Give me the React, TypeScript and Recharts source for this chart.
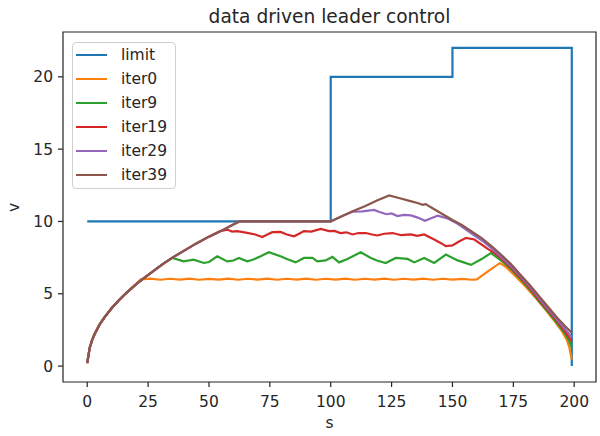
import React from 'react';
import { LineChart, Line, XAxis, YAxis, Legend, ReferenceArea } from 'recharts';

// shared acceleration ramp
const rampS = [0, 1, 2, 3, 5, 7, 10, 13, 16, 20, 23, 27, 31, 35, 40, 45, 50, 55, 59, 62.5];
const rampV = [0.2, 1.25, 1.8, 2.2, 2.85, 3.35, 4.0, 4.55, 5.05, 5.65, 6.05, 6.55, 7.05, 7.5, 8.0, 8.5, 8.95, 9.35, 9.7, 10.0];

const limitS = [0, 100, 100, 150, 150, 199, 199];
const limitV = [10, 10, 20, 20, 22, 22, 0];

const iter0S = [
  22, 26, 30, 34, 38, 42, 46, 50, 54, 58, 62, 66, 70, 74, 78, 82, 86, 90, 94, 98,
  102, 106, 110, 114, 118, 122, 126, 130, 134, 138, 142, 146, 150, 154, 158,
  160, 165, 169.5, 172, 176, 180, 184, 188, 192, 195, 197, 198, 199,
];
const iter0V = [
  6.0, 6.05, 5.97, 6.04, 5.98, 6.05, 5.97, 6.03, 5.98, 6.05, 5.97, 6.04, 5.98, 6.05, 5.97, 6.04, 5.98, 6.05, 5.97, 6.04,
  5.98, 6.05, 5.97, 6.04, 5.98, 6.05, 5.97, 6.04, 5.98, 6.05, 5.97, 6.04, 5.98, 6.03, 5.97,
  6.0, 6.6, 7.13, 6.85, 6.2, 5.5, 4.75, 3.95, 3.1, 2.4, 1.8, 1.3, 0.45,
];

const iter9S = [
  35, 39.6, 43.7, 47.9, 50, 53.4, 57.5, 60, 62.3, 65.7, 68, 71.2, 74.6, 79.4, 82, 85.6, 89, 92.5, 94.5, 97.9,
  100.7, 103.4, 106.9, 112.3, 116.5, 119, 122.6, 126.7, 131.6, 134.3, 138.4, 142.5, 147.3, 152.1, 157.6, 162, 165.8,
  170, 174, 178, 182, 186, 190, 193, 196, 198, 199,
];
const iter9V = [
  7.48, 7.24, 7.36, 7.13, 7.2, 7.59, 7.24, 7.3, 7.48, 7.24, 7.35, 7.59, 7.87, 7.59, 7.4, 7.17, 7.48, 7.48, 7.24, 7.31,
  7.55, 7.17, 7.41, 7.87, 7.48, 7.3, 7.13, 7.48, 7.41, 7.17, 7.48, 7.13, 7.71, 7.31, 7.0, 7.4, 7.82,
  7.3, 6.7, 6.0, 5.25, 4.4, 3.6, 2.95, 2.3, 1.7, 1.3,
];

const iter19S = [
  54.7, 57.5, 59.5, 61.6, 65.7, 69, 71.9, 74, 76, 79.4, 82, 84.9, 87, 89, 92, 95.9, 99.3, 101.5, 104, 106.5,
  108.9, 111.5, 114.4, 117, 119.2, 122, 125.4, 129, 132.9, 135.5, 138.4, 142.5, 145.3, 147.3, 150, 152.5, 155.6, 159,
  164.5, 167, 170, 174, 178, 182, 186, 190, 193, 196, 198, 199,
];
const iter19V = [
  9.33, 9.44, 9.3, 9.33, 9.21, 9.1, 8.93, 9.1, 9.26, 9.28, 9.1, 8.98, 9.15, 9.33, 9.3, 9.49, 9.33, 9.35, 9.2, 9.25,
  9.1, 9.2, 9.2, 9.1, 9.03, 9.15, 9.2, 9.05, 9.1, 9.0, 9.1, 8.75, 8.5, 8.29, 8.35, 8.6, 8.87, 8.75,
  8.1, 7.85, 7.45, 6.8, 6.1, 5.35, 4.5, 3.7, 3.1, 2.45, 1.95, 1.7,
];

const iter29S = [
  100, 105, 109, 113, 117.8, 120, 123, 125, 127.4, 130, 133, 136, 138.7, 141, 143.9, 146, 148,
  152, 155, 158, 162, 166, 170, 174, 178, 182, 186, 190, 193, 196, 199,
];
const iter29V = [
  10, 10.4, 10.67, 10.7, 10.8, 10.65, 10.5, 10.55, 10.37, 10.45, 10.42, 10.25, 10.05, 10.2, 10.4, 10.3, 10.2,
  9.85, 9.5, 9.15, 8.7, 8.15, 7.55, 6.9, 6.2, 5.45, 4.6, 3.8, 3.2, 2.6, 2.0,
];

const iter39S = [
  100, 105, 109, 114, 119, 124, 128, 132, 136, 137.7, 139, 142, 146, 150, 154, 158, 162, 166, 170, 174,
  178, 182, 186, 190, 193, 196, 199,
];
const iter39V = [
  10, 10.4, 10.7, 11.05, 11.45, 11.8, 11.62, 11.44, 11.26, 11.15, 11.2, 10.9, 10.5, 10.1, 9.75, 9.3, 8.85, 8.3, 7.7, 7.05,
  6.3, 5.55, 4.75, 3.95, 3.35, 2.8, 2.3,
];

const xTicks = [0, 25, 50, 75, 100, 125, 150, 175, 200];
const yTicks = [0, 5, 10, 15, 20];

const toPoints = (s: number[], v: number[]) => s.map((x, i) => ({ s: x, v: v[i] }));
const withRamp = (upTo: number, s: number[], v: number[]) =>
  toPoints(
    [...rampS.filter((x) => x <= upTo), ...s],
    [...rampV.filter((_, i) => rampS[i] <= upTo), ...v],
  );

const series = [
  { name: 'limit', color: '#1f77b4', data: toPoints(limitS, limitV) },
  { name: 'iter0', color: '#ff7f0e', data: withRamp(20, iter0S, iter0V) },
  { name: 'iter9', color: '#2ca02c', data: withRamp(31, iter9S, iter9V) },
  { name: 'iter19', color: '#d62728', data: withRamp(50, iter19S, iter19V) },
  { name: 'iter29', color: '#9467bd', data: withRamp(62.5, iter29S, iter29V) },
  { name: 'iter39', color: '#8c564b', data: withRamp(62.5, iter39S, iter39V) },
];
const order = (name: string) => series.findIndex((sr) => sr.name === name);

const FONT = 'DejaVu Sans';
const TXT = '#262626';
const xDomain: [number, number] = [-9.95, 208.95];
const yDomain: [number, number] = [-1.1, 23.1];

const renderLegend = (props: any) => {
  const items = [...(props.payload || [])].sort((a: any, b: any) => order(a.value) - order(b.value));
  return (
    <div
      style={{
        boxSizing: 'border-box',
        width: 104,
        height: 147,
        border: '1px solid #d0d0d0',
        borderRadius: 4,
        background: 'rgba(255,255,255,0.8)',
        fontFamily: FONT,
        fontSize: 15.5,
        color: TXT,
      }}
    >
      {items.map((e: any) => (
        <div key={e.value} style={{ display: 'flex', alignItems: 'center', height: 24 }}>
          <span style={{ display: 'inline-block', width: 31, height: 2.2, marginLeft: 3, marginRight: 14, background: e.color }} />
          <span>{e.value}</span>
        </div>
      ))}
    </div>
  );
};

export default function App() {
  return (
    <div style={{ position: 'absolute', left: 0, top: 0, background: '#fff' }}>
      <LineChart width={600} height={436} margin={{ top: 32, right: 4, bottom: 0, left: 0 }} style={{ fontFamily: FONT }}>
        <XAxis
          type="number"
          dataKey="s"
          domain={xDomain}
          ticks={xTicks}
          allowDataOverflow
          height={54}
          tickSize={5}
          tickMargin={9}
          axisLine={false}
          tickLine={{ stroke: '#222', strokeWidth: 1.2 }}
          tick={{ fontSize: 15.5, fill: TXT, fontFamily: FONT }}
          label={{ value: 's', position: 'insideBottom', offset: 8, fontSize: 15.5, fill: TXT, fontFamily: FONT }}
        />
        <YAxis
          type="number"
          domain={yDomain}
          ticks={yTicks}
          allowDataOverflow
          width={63}
          tickSize={5}
          tickMargin={5}
          axisLine={false}
          tickLine={{ stroke: '#222', strokeWidth: 1.2 }}
          tick={{ fontSize: 15.5, fill: TXT, fontFamily: FONT }}
        />
        <ReferenceArea x1={xDomain[0]} x2={xDomain[1]} y1={yDomain[0]} y2={yDomain[1]} fill="none" stroke="#222" strokeWidth={1.2} />
        {series.map((sr) => (
          <Line
            key={sr.name}
            data={sr.data}
            dataKey="v"
            name={sr.name}
            type="linear"
            stroke={sr.color}
            strokeWidth={2.2}
            dot={false}
            activeDot={false}
            isAnimationActive={false}
          />
        ))}
        <Legend
          layout="vertical"
          align="center"
          verticalAlign="middle"
          itemSorter={(item: any) => order(item.value)}
          wrapperStyle={{ left: 72, top: 42, width: 104, height: 147 }}
          content={renderLegend}
        />
        <text x={329.5} y={23} textAnchor="middle" fontSize={18.6} fill={TXT} fontFamily={FONT}>
          data driven leader control
        </text>
        <text x={19} y={207.5} transform="rotate(-90 19 207.5)" textAnchor="middle" fontSize={15.5} fill={TXT} fontFamily={FONT}>
          v
        </text>
      </LineChart>
    </div>
  );
}
